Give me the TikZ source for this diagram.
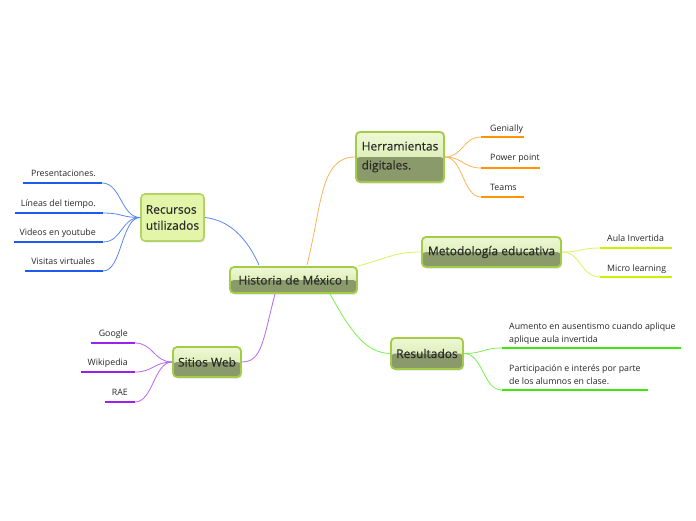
\documentclass[tikz,border=0pt]{standalone}
\usepackage{fontspec}
\setmainfont{Open Sans}
\newfontfamily\nodefont[FakeBold=0.35]{Open Sans}
\usetikzlibrary{shadows}
\definecolor{nodeborder}{HTML}{A4CC46}
\definecolor{topA}{HTML}{EEF8D6}
\definecolor{topB}{HTML}{CFE7A0}
\definecolor{botfill}{HTML}{8A9A6A}
\definecolor{plainfill}{HTML}{E2F5A8}
\definecolor{nodetext}{HTML}{2B2B2B}
\definecolor{corange}{HTML}{FF9400}
\definecolor{corangel}{HTML}{FBB454}
\definecolor{cyellow}{HTML}{CCF000}
\definecolor{cyellowl}{HTML}{DAF260}
\definecolor{cgreen}{HTML}{3BE80A}
\definecolor{cgreenl}{HTML}{7AF050}
\definecolor{cblue}{HTML}{1E5AF0}
\definecolor{cbluel}{HTML}{5A86F2}
\definecolor{cpurple}{HTML}{9A22EE}
\definecolor{cpurplel}{HTML}{B866F2}
\tikzset{
  mainbox/.style={draw=nodeborder, line width=1.8pt, rounded corners=4pt, inner sep=0pt,
    font=\nodefont\fontsize{12}{19}\selectfont, text=nodetext,
    drop shadow={opacity=0.25, shadow xshift=1pt, shadow yshift=-1.5pt},
    path picture={
      \shade[top color=topA, bottom color=topB] (path picture bounding box.north west) rectangle (path picture bounding box.east);
      \fill[botfill] (path picture bounding box.west) rectangle (path picture bounding box.south east);
    }},
  plainbox/.style={draw=nodeborder!85!white, line width=1.6pt, rounded corners=4pt, inner sep=0pt,
    fill=plainfill, font=\nodefont\fontsize{12}{16}\selectfont, text=nodetext,
    drop shadow={opacity=0.2, shadow xshift=1pt, shadow yshift=-1.5pt}},
  leaf/.style={inner sep=0pt, font=\fontsize{8.8}{13}\selectfont, text=black!85},
  uline/.style={line width=2.4pt},
  conn/.style={line width=0.8pt},
}
\begin{document}
\begin{tikzpicture}[x=1pt,y=-1pt]
\useasboundingbox (0,0) rectangle (696,520);

% main nodes
\node[mainbox, minimum width=127pt, minimum height=26pt] (hist) at (293.5,280) {Historia de México I};
\node[mainbox, minimum width=88pt, minimum height=50pt, align=left] (herr) at (400,157) {Herramientas\\digitales.};
\node[mainbox, minimum width=139pt, minimum height=30pt] (meto) at (491.5,252) {Metodología educativa};
\node[mainbox, minimum width=72pt, minimum height=31pt] (resu) at (427,353.5) {Resultados};
\node[plainbox, minimum width=63pt, minimum height=47pt, align=left] (recu) at (172.5,217.5) {Recursos\\utilizados};
\node[mainbox, minimum width=68pt, minimum height=30pt] (siti) at (207,362) {Sitios Web};

% main connectors
\coordinate (hRec) at (259,265);
\coordinate (hHer) at (307,265);
\coordinate (hMet) at (358,266);
\coordinate (hRes) at (330,294);
\coordinate (hSit) at (275,294);
\draw[conn, cbluel] (hRec) .. controls (246,236) and (228,220) .. (recu.east);
\draw[conn, corangel] (hHer) .. controls (322,205) and (320,157) .. (herr.west);
\draw[conn, cyellowl] (hMet) .. controls (388,258) and (395,252) .. (meto.west);
\draw[conn, cgreenl] (hRes) .. controls (350,330) and (365,353) .. (resu.west);
\draw[conn, cpurplel] (hSit) .. controls (263,340) and (262,362) .. (siti.east);

% Herramientas leaves
\coordinate (g1) at (481,137); \coordinate (g2) at (524,137);
\coordinate (p1) at (481,168); \coordinate (p2) at (540,168);
\coordinate (t1) at (481,197); \coordinate (t2) at (524,197);
\draw[uline, corange] (g1) -- (g2);
\draw[uline, corange] (p1) -- (p2);
\draw[uline, corange] (t1) -- (t2);
\node[leaf, anchor=base west] (gen) at (490,131) {Genially};
\node[leaf, anchor=base west] (pow) at (490,160) {Power point};
\node[leaf, anchor=base west] (tea) at (490,190) {Teams};
\draw[conn, corangel] (herr.east) .. controls +(18,0) and +(-18,0) .. (g1);
\draw[conn, corangel] (herr.east) .. controls +(18,0) and +(-18,0) .. (p1);
\draw[conn, corangel] (herr.east) .. controls +(18,0) and +(-18,0) .. (t1);

% Metodologia leaves
\coordinate (a1) at (600,248); \coordinate (a2) at (672,248);
\coordinate (m1) at (600,277); \coordinate (m2) at (672,277);
\draw[uline, cyellow] (a1) -- (a2);
\draw[uline, cyellow] (m1) -- (m2);
\node[leaf, anchor=base west] (aul) at (607,241) {Aula Invertida};
\node[leaf, anchor=base west] (mic) at (607,271) {Micro learning};
\draw[conn, cyellowl] (meto.east) .. controls +(19,0) and +(-19,0) .. (a1);
\draw[conn, cyellowl] (meto.east) .. controls +(19,0) and +(-19,0) .. (m1);

% Resultados leaves
\coordinate (r1) at (502,348); \coordinate (r2) at (681,348);
\coordinate (q1) at (502,390); \coordinate (q2) at (648,390);
\draw[uline, cgreen] (r1) -- (r2);
\draw[uline, cgreen] (q1) -- (q2);
\node[leaf, anchor=north west, align=left] (aum) at (509,323) {Aumento en ausentismo cuando aplique\\aplique aula invertida};
\node[leaf, anchor=north west, align=left] (par) at (509,365) {Participación e interés por parte\\de los alumnos en clase.};
\draw[conn, cgreenl] (resu.east) .. controls +(19,0) and +(-19,0) .. (r1);
\draw[conn, cgreenl] (resu.east) .. controls +(19,0) and +(-19,0) .. (q1);

% Recursos leaves
\coordinate (e1) at (23,183); \coordinate (e2) at (102,183);
\coordinate (l1) at (15,213); \coordinate (l2) at (103,213);
\coordinate (v1) at (14,242); \coordinate (v2) at (103,242);
\coordinate (s1) at (25,271); \coordinate (s2) at (103,271);
\draw[uline, cblue] (e1) -- (e2);
\draw[uline, cblue] (l1) -- (l2);
\draw[uline, cblue] (v1) -- (v2);
\draw[uline, cblue] (s1) -- (s2);
\node[leaf, anchor=base east] (pre) at (96,176) {Presentaciones.};
\node[leaf, anchor=base east] (lin) at (96,206) {Líneas del tiempo.};
\node[leaf, anchor=base east] (vid) at (96,235) {Videos en youtube};
\node[leaf, anchor=base east] (vis) at (95,264) {Visitas virtuales};
\draw[conn, cbluel] (recu.west) .. controls +(-19,0) and +(19,0) .. (e2);
\draw[conn, cbluel] (recu.west) .. controls +(-19,0) and +(19,0) .. (l2);
\draw[conn, cbluel] (recu.west) .. controls +(-19,0) and +(19,0) .. (v2);
\draw[conn, cbluel] (recu.west) .. controls +(-19,0) and +(19,0) .. (s2);

% Sitios leaves
\coordinate (o1) at (91,343); \coordinate (o2) at (135,343);
\coordinate (w1) at (81,372); \coordinate (w2) at (135,372);
\coordinate (x1) at (105,402); \coordinate (x2) at (135,402);
\draw[uline, cpurple] (o1) -- (o2);
\draw[uline, cpurple] (w1) -- (w2);
\draw[uline, cpurple] (x1) -- (x2);
\node[leaf, anchor=base east] (goo) at (128,336) {Google};
\node[leaf, anchor=base east] (wik) at (128,365) {Wikipedia};
\node[leaf, anchor=base east] (rae) at (128,395) {RAE};
\draw[conn, cpurplel] (siti.west) .. controls +(-18,0) and +(18,0) .. (o2);
\draw[conn, cpurplel] (siti.west) .. controls +(-18,0) and +(18,0) .. (w2);
\draw[conn, cpurplel] (siti.west) .. controls +(-18,0) and +(18,0) .. (x2);
\end{tikzpicture}
\end{document}
